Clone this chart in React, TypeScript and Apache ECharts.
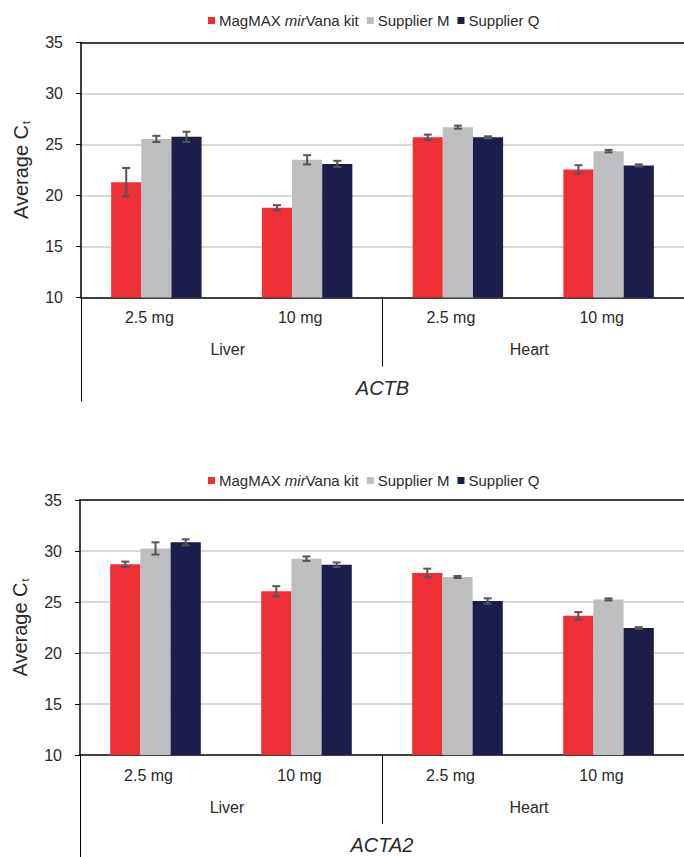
import React, { useEffect, useRef } from "react";
import * as echarts from "echarts";

const doses = ["2.5 mg", "10 mg", "2.5 mg", "10 mg"];
const tissues = ["Liver", "Heart"];
const genes = ["ACTB", "ACTA2"];
const supplierNames = ["MagMAX mirVana kit", "Supplier M", "Supplier Q"];
const yTicks = { min: 10, max: 35, interval: 5 };

// ACTB
const actbMagmax = [21.3, 18.8, 25.7, 22.55];
const actbMagmaxErr = [1.4, 0.25, 0.27, 0.42];
const actbSupM = [25.55, 23.5, 26.7, 24.35];
const actbSupMErr = [0.3, 0.45, 0.15, 0.12];
const actbSupQ = [25.75, 23.1, 25.7, 22.95];
const actbSupQErr = [0.5, 0.3, 0.1, 0.1];

// ACTA2
const acta2Magmax = [28.7, 26.05, 27.85, 23.65];
const acta2MagmaxErr = [0.26, 0.5, 0.42, 0.36];
const acta2SupM = [30.25, 29.25, 27.45, 25.25];
const acta2SupMErr = [0.6, 0.22, 0.1, 0.1];
const acta2SupQ = [30.85, 28.65, 25.1, 22.45];
const acta2SupQErr = [0.3, 0.23, 0.26, 0.08];

const colors = ["#EE2F36", "#BCBEC0", "#1C1D4A"];
const FONT = "Liberation Sans, Arial, sans-serif";
const TEXT = "#2a2a2a";

export default function App() {
  const ref = useRef<HTMLDivElement>(null);
  useEffect(() => {
    if (!ref.current) return;
    const chart = echarts.init(ref.current, undefined, { renderer: "svg" });

    const charts = [
      {
        vals: [actbMagmax, actbSupM, actbSupQ],
        errs: [actbMagmaxErr, actbSupMErr, actbSupQErr],
        grid: { left: 81, top: 42.5, width: 605, height: 255 },
        legendTop: 13,
        gene: genes[0],
      },
      {
        vals: [acta2Magmax, acta2SupM, acta2SupQ],
        errs: [acta2MagmaxErr, acta2SupMErr, acta2SupQErr],
        grid: { left: 80, top: 500, width: 608, height: 255 },
        legendTop: 473,
        gene: genes[1],
      },
    ];

    const grid: any[] = [];
    const xAxis: any[] = [];
    const yAxis: any[] = [];
    const series: any[] = [];
    const legend: any[] = [];

    charts.forEach((c, gi) => {
      grid.push({ ...c.grid, containLabel: false });
      const base = xAxis.length;
      xAxis.push({
        gridIndex: gi,
        type: "category",
        position: "bottom",
        data: doses,
        axisLine: { show: true, lineStyle: { color: "#000", width: 1.5 } },
        axisTick: { show: false },
        axisLabel: {
          fontSize: 16,
          margin: 12,
          color: TEXT,
          fontFamily: FONT,
          padding: [0, 14, 0, 0],
        },
        splitLine: { show: false },
      });
      xAxis.push({
        gridIndex: gi,
        type: "category",
        position: "bottom",
        data: tissues,
        axisLine: { show: false },
        axisTick: { show: true, length: 69, lineStyle: { color: "#000", width: 1 } },
        axisLabel: {
          fontSize: 16,
          margin: 44,
          color: TEXT,
          fontFamily: FONT,
          padding: [0, 8, 0, 0],
        },
        splitLine: { show: false },
      });
      xAxis.push({
        gridIndex: gi,
        type: "category",
        position: "bottom",
        data: [c.gene],
        axisLine: { show: false },
        axisTick: { show: true, length: 104, lineStyle: { color: "#000", width: 1 } },
        axisLabel: {
          fontSize: 20,
          fontStyle: "italic",
          margin: 80,
          color: TEXT,
          fontFamily: FONT,
        },
        splitLine: { show: false },
      });
      xAxis.push({
        gridIndex: gi,
        type: "category",
        position: "top",
        data: doses,
        axisLine: { show: true, lineStyle: { color: "#000", width: 1.5 } },
        axisTick: { show: false },
        axisLabel: { show: false },
        splitLine: { show: false },
      });
      yAxis.push({
        gridIndex: gi,
        type: "value",
        min: yTicks.min,
        max: yTicks.max,
        interval: yTicks.interval,
        name: "Average C{sub|t}",
        nameLocation: "middle",
        nameGap: 50,
        nameTextStyle: {
          fontSize: 20,
          color: TEXT,
          fontFamily: FONT,
          rich: {
            sub: { fontSize: 11, color: TEXT, fontFamily: FONT, padding: [9, 0, 0, 1] },
          },
        },
        axisLine: { show: true, lineStyle: { color: "#000", width: 1.5 } },
        axisTick: { show: true, length: 5, lineStyle: { color: "#000", width: 1 } },
        axisLabel: { fontSize: 16, margin: 18, color: TEXT, fontFamily: FONT },
        splitLine: {
          show: true,
          showMinLine: false,
          showMaxLine: false,
          lineStyle: { color: "#D9D9D9", width: 2 },
        },
      });

      supplierNames.forEach((name, si) => {
        series.push({
          type: "bar",
          name,
          xAxisIndex: base,
          yAxisIndex: gi,
          data: c.vals[si],
          barWidth: "20%",
          barGap: "0%",
          itemStyle: { color: colors[si] },
          z: 2,
        });
      });

      const errData: number[][] = [];
      supplierNames.forEach((_, si) => {
        c.vals[si].forEach((v, ci) => {
          errData.push([ci, v, c.errs[si][ci], si]);
        });
      });
      series.push({
        type: "custom",
        name: "err" + gi,
        xAxisIndex: base,
        yAxisIndex: gi,
        data: errData,
        encode: { x: 0, y: 1 },
        z: 5,
        renderItem: (params: any, api: any) => {
          const ci = api.value(0);
          const v = api.value(1);
          const e = api.value(2);
          const si = api.value(3);
          const bw = api.size([1, 0])[0] * 0.2;
          const center = api.coord([ci, v]);
          const x = center[0] + (si - 1) * bw;
          const hi = api.coord([ci, v + e])[1];
          const lo = api.coord([ci, v - e])[1];
          const cap = 4;
          const st = { stroke: "#555", lineWidth: 2 };
          return {
            type: "group",
            children: [
              { type: "line", shape: { x1: x, y1: hi, x2: x, y2: lo }, style: st },
              { type: "line", shape: { x1: x - cap, y1: hi, x2: x + cap, y2: hi }, style: st },
              { type: "line", shape: { x1: x - cap, y1: lo, x2: x + cap, y2: lo }, style: st },
            ],
          };
        },
      });

      legend.push({
        top: c.legendTop,
        left: 208,
        padding: 0,
        data: supplierNames,
        icon: "rect",
        itemWidth: 7,
        itemHeight: 7,
        itemGap: 8,
        textStyle: {
          fontSize: 15,
          color: TEXT,
          fontFamily: FONT,
          padding: [0, 0, 0, -1],
          rich: { i: { fontSize: 15, fontStyle: "italic", color: TEXT, fontFamily: FONT } },
        },
        formatter: (n: string) => (n.startsWith("MagMAX") ? "MagMAX {i|mir}Vana kit" : n),
      });
    });

    chart.setOption({
      animation: false,
      backgroundColor: "#fff",
      textStyle: { fontFamily: FONT },
      grid,
      xAxis,
      yAxis,
      legend,
      series,
    });
    return () => chart.dispose();
  }, []);
  return (
    <div
      ref={ref}
      style={{ position: "fixed", left: 0, top: 0, width: 684, height: 857 }}
    />
  );
}
